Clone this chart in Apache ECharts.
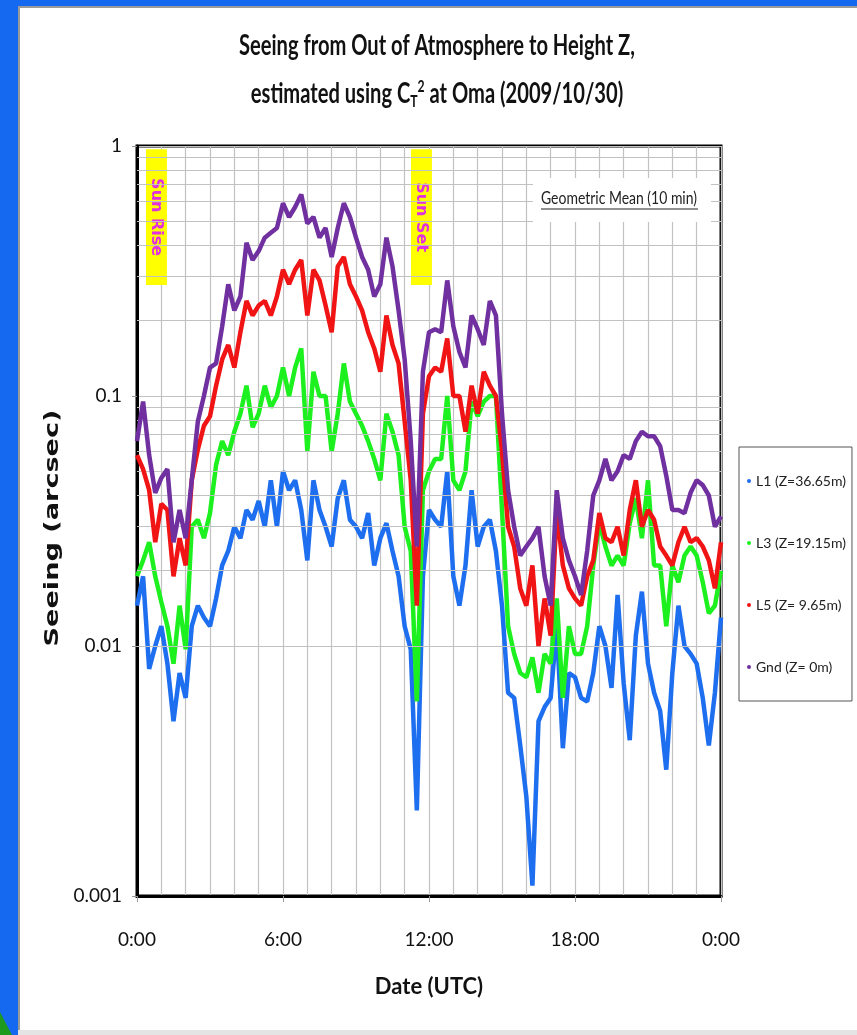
<!DOCTYPE html>
<html><head><meta charset="utf-8">
<script src="https://cdn.jsdelivr.net/npm/echarts@6/dist/echarts.min.js"></script>
<style>
html,body{margin:0;padding:0;width:857px;height:1035px;overflow:hidden;background:#1469f0;}
#panel{position:absolute;left:18px;top:6px;width:839px;height:1024px;background:#fff;border-left:2px solid #9a9a9a;border-top:2px solid #9a9a9a;box-sizing:border-box;}
#bottom{position:absolute;left:18px;top:1030px;width:839px;height:5px;background:#e4e4e4;}
#tri{position:absolute;left:0;top:1012px;width:0;height:0;border-left:12px solid #1e9a1e;border-top:23px solid transparent;}
#chart{position:absolute;left:0;top:0;width:857px;height:1035px;}
</style></head><body>
<div id="panel"></div><div id="bottom"></div><div id="tri"></div>
<div id="chart"></div>
<script>
// time of day in hours (UTC), sampled every 15 min
const hours = [0,0.25,0.5,0.75,1,1.25,1.5,1.75,2,2.25,2.5,2.75,3,3.25,3.5,3.75,4,4.25,4.5,4.75,5,5.25,5.5,5.75,
  6,6.25,6.5,6.75,7,7.25,7.5,7.75,8,8.25,8.5,8.75,9,9.25,9.5,9.75,10,10.25,10.5,10.75,11,11.25,11.5,11.75,
  12,12.25,12.5,12.75,13,13.25,13.5,13.75,14,14.25,14.5,14.75,15,15.25,15.5,15.75,16,16.25,16.5,16.75,17,17.25,17.5,17.75,
  18,18.25,18.5,18.75,19,19.25,19.5,19.75,20,20.25,20.5,20.75,21,21.25,21.5,21.75,22,22.25,22.5,22.75,23,23.25,23.5,23.75,24];

const seriesNames = ['L1 (Z=36.65m)', 'L3 (Z=19.15m)', 'L5 (Z= 9.65m)', 'Gnd (Z= 0m)'];

const L1 = [0.0145,0.019,0.0081,0.010,0.012,0.0085,0.005,0.0078,0.0062,0.012,0.0145,0.013,0.012,0.0155,0.021,0.024,0.030,0.027,0.035,0.032,0.038,0.030,0.046,0.030,
  0.050,0.042,0.046,0.035,0.022,0.046,0.035,0.030,0.025,0.039,0.046,0.032,0.030,0.027,0.034,0.021,0.027,0.031,0.024,0.019,0.012,0.0097,0.0022,0.019,
  0.035,0.032,0.030,0.050,0.019,0.0145,0.021,0.042,0.025,0.030,0.032,0.024,0.0145,0.0065,0.0062,0.0040,0.0025,0.0011,0.0050,0.0057,0.0062,0.012,0.0039,0.0078,
  0.0075,0.0062,0.006,0.0078,0.012,0.010,0.0068,0.016,0.0071,0.0042,0.011,0.0165,0.0085,0.0065,0.0055,0.0032,0.0078,0.0145,0.010,0.0093,0.0085,0.0062,0.004,0.0065,0.013];

const L3 = [0.019,0.022,0.026,0.019,0.015,0.012,0.0085,0.0145,0.0097,0.030,0.032,0.027,0.034,0.053,0.066,0.058,0.072,0.085,0.11,0.075,0.085,0.11,0.09,0.10,
  0.13,0.10,0.13,0.155,0.06,0.125,0.10,0.10,0.06,0.085,0.135,0.095,0.085,0.076,0.066,0.056,0.046,0.085,0.072,0.058,0.030,0.024,0.006,0.042,
  0.05,0.056,0.056,0.10,0.046,0.042,0.050,0.095,0.083,0.095,0.10,0.10,0.035,0.012,0.0093,0.0078,0.0075,0.009,0.0065,0.0093,0.0085,0.0155,0.0062,0.012,
  0.0093,0.0093,0.012,0.021,0.031,0.025,0.021,0.023,0.021,0.031,0.039,0.027,0.046,0.021,0.021,0.012,0.021,0.018,0.023,0.025,0.023,0.018,0.0135,0.0145,0.020];

const L5 = [0.058,0.051,0.042,0.026,0.037,0.035,0.019,0.027,0.021,0.046,0.061,0.076,0.083,0.11,0.14,0.16,0.13,0.18,0.24,0.21,0.23,0.24,0.21,0.25,
  0.32,0.28,0.32,0.35,0.21,0.32,0.29,0.23,0.18,0.33,0.36,0.28,0.25,0.22,0.18,0.155,0.125,0.21,0.16,0.135,0.079,0.046,0.0145,0.085,
  0.12,0.13,0.125,0.17,0.10,0.10,0.072,0.11,0.085,0.125,0.11,0.10,0.06,0.030,0.025,0.017,0.0145,0.021,0.010,0.0155,0.011,0.035,0.021,0.017,
  0.0155,0.0145,0.019,0.022,0.034,0.027,0.026,0.030,0.023,0.035,0.046,0.030,0.035,0.032,0.025,0.023,0.021,0.026,0.030,0.026,0.027,0.025,0.022,0.017,0.026];

const Gnd = [0.066,0.095,0.058,0.041,0.047,0.051,0.026,0.035,0.027,0.046,0.079,0.10,0.13,0.135,0.19,0.28,0.22,0.25,0.41,0.35,0.38,0.43,0.45,0.47,
  0.59,0.52,0.57,0.64,0.49,0.52,0.43,0.47,0.36,0.47,0.59,0.52,0.43,0.36,0.32,0.25,0.28,0.43,0.33,0.22,0.14,0.066,0.025,0.125,
  0.18,0.185,0.18,0.29,0.19,0.15,0.13,0.21,0.185,0.16,0.24,0.21,0.085,0.042,0.030,0.023,0.025,0.027,0.030,0.019,0.0145,0.042,0.027,0.022,
  0.019,0.016,0.024,0.040,0.046,0.056,0.046,0.050,0.058,0.056,0.066,0.072,0.069,0.069,0.063,0.048,0.035,0.035,0.034,0.041,0.046,0.044,0.040,0.030,0.033];

const xTickLabels = ['0:00', '6:00', '12:00', '18:00', '0:00'];
const yTickLabels = ['0.001', '0.01', '0.1', '1'];
const yMinorGrid = [0.002,0.003,0.004,0.005,0.006,0.007,0.008,0.009,
  0.02,0.03,0.04,0.05,0.06,0.07,0.08,0.09,
  0.2,0.3,0.4,0.5,0.6,0.7,0.8,0.9];
const sunEvents = [
  {label: 'Sun Rise', from: 0.37, to: 1.23, yLow: 0.278, yHigh: 0.97},
  {label: 'Sun Set', from: 11.26, to: 12.12, yLow: 0.278, yHigh: 0.97}
];

const colors = ['#1e6ef0', '#1cf01e', '#f01414', '#7030a0'];
const FONT = "Lato, 'Liberation Sans', sans-serif";
const GRID = '#c2c2c2';

function measure(text, font) {
  const c = document.createElement('canvas').getContext('2d');
  c.font = font;
  return c.measureText(text).width;
}
const title1 = 'Seeing from Out of Atmosphere to Height Z,';
const titleScale = 396 / measure(title1, 'bold 28px Lato');
const yName = 'Seeing (arcsec)';
const yNameScale = 237 / measure(yName, 'bold 19px "DejaVu Sans"');
const geoText = 'Geometric Mean (10 min)';
const geoScale = 156 / measure(geoText, '18px Lato');

const seriesData = [L1, L3, L5, Gnd];
const chart = echarts.init(document.getElementById('chart'), null, {renderer: 'canvas'});

const series = seriesData.map((arr, i) => ({
  name: seriesNames[i],
  type: 'line',
  data: hours.map((h, j) => [h, arr[j]]),
  showSymbol: false,
  symbol: 'circle',
  color: colors[i],
  lineStyle: {width: 4.5, color: colors[i]},
  z: 3 + i
}));

series.unshift({
  name: '_grid',
  type: 'line',
  data: [],
  z: 1,
  silent: true,
  markLine: {
    silent: true, symbol: ['none', 'none'], label: {show: false}, animation: false,
    lineStyle: {color: GRID, width: 1.2, type: 'solid'},
    emphasis: {disabled: true},
    data: yMinorGrid.map(v => ({yAxis: v}))
  },
  markArea: {
    silent: true,
    itemStyle: {color: '#ffff00', opacity: 1},
    label: {show: true, position: 'inside', rotate: -90, color: '#e030e0', fontWeight: 'bold',
      fontFamily: 'DejaVu Sans', fontSize: 16},
    data: sunEvents.map(s => [{name: s.label, xAxis: s.from, yAxis: s.yHigh}, {xAxis: s.to, yAxis: s.yLow}])
  }
});

chart.setOption({
  animation: false,
  backgroundColor: 'transparent',
  grid: {left: 137, top: 146, right: 136, bottom: 139, show: true, borderColor: '#000', borderWidth: 3, backgroundColor: 'transparent'},
  legend: {
    data: seriesNames, orient: 'vertical', left: 739, top: 447,
    icon: 'circle', itemWidth: 4, itemHeight: 4, itemGap: 46,
    padding: [26, 6, 26, 8], borderColor: '#555', borderWidth: 1, backgroundColor: '#fff',
    textStyle: {fontFamily: FONT, fontSize: 14, color: '#222', lineHeight: 16}
  },
  xAxis: {
    type: 'value', min: 0, max: 24, interval: 6,
    name: 'Date (UTC)', nameLocation: 'middle', nameGap: 80,
    nameTextStyle: {fontFamily: FONT, fontWeight: 'bold', fontSize: 22, color: '#111'},
    axisLine: {show: true, lineStyle: {color: '#000', width: 3}},
    axisTick: {show: true, length: 6, lineStyle: {color: '#999'}},
    axisLabel: {margin: 34, fontFamily: FONT, fontSize: 19, color: '#111',
      formatter: v => xTickLabels[Math.round(v / 6)]},
    splitLine: {show: true, lineStyle: {color: GRID, width: 1.2}},
    minorTick: {show: false, splitNumber: 6},
    minorSplitLine: {show: true, lineStyle: {color: GRID, width: 1.2}}
  },
  yAxis: {
    type: 'log', logBase: 10, min: 0.001, max: 1,
    axisLine: {show: true, lineStyle: {color: '#000', width: 3}},
    axisTick: {show: true, length: 5, lineStyle: {color: '#999'}},
    axisLabel: {margin: 15, fontFamily: FONT, fontSize: 19, color: '#111',
      formatter: v => yTickLabels[Math.round(Math.log10(v)) + 3]},
    splitLine: {show: true, lineStyle: {color: GRID, width: 1.2}}
  },
  graphic: [
    {type: 'text', x: 437, y: 46, scaleX: titleScale, z: 20,
      style: {text: title1, font: 'bold 28px Lato', fill: '#111', align: 'center', verticalAlign: 'middle'}},
    {type: 'text', x: 437, y: 94, scaleX: titleScale, z: 20,
      style: {text: '{a|estimated using C}{sub|T}{sup|2}{a| at Oma (2009/10/30)}', fill: '#111',
        align: 'center', verticalAlign: 'middle',
        rich: {
          a: {fontFamily: 'Lato', fontWeight: 'bold', fontSize: 28, fill: '#111'},
          sub: {fontFamily: 'Lato', fontWeight: 'bold', fontSize: 17, padding: [16, 0, 0, 0], fill: '#111'},
          sup: {fontFamily: 'Lato', fontWeight: 'bold', fontSize: 17, padding: [0, 0, 14, 0], fill: '#111'}
        }}},
    {type: 'text', x: 53, y: 528, rotation: Math.PI / 2, scaleX: yNameScale, z: 20,
      style: {text: yName, font: 'bold 19px "DejaVu Sans"', fill: '#111', align: 'center', verticalAlign: 'middle'}},
    {type: 'rect', shape: {x: 533, y: 178, width: 178, height: 44}, style: {fill: '#fff'}, z: 10},
    {type: 'text', x: 541, y: 207, scaleX: geoScale, z: 11,
      style: {text: geoText, font: '18px Lato', fill: '#222', align: 'left', verticalAlign: 'bottom'}},
    {type: 'line', shape: {x1: 541, y1: 209, x2: 698, y2: 209}, style: {stroke: '#222', lineWidth: 1}, z: 11}
  ],
  series: series
});
</script>
</body></html>
